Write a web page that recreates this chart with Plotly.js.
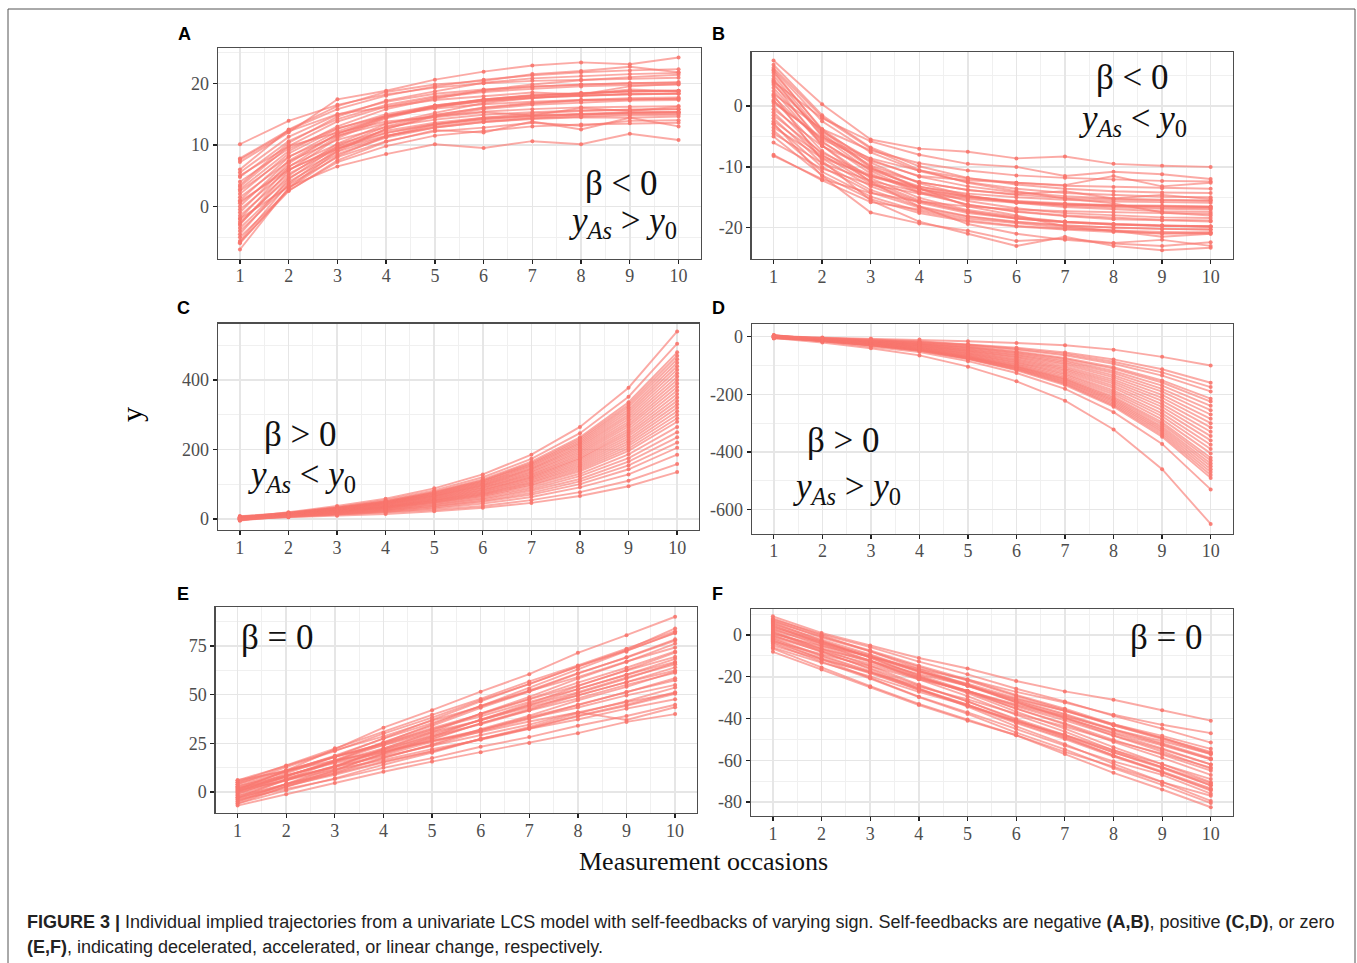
<!DOCTYPE html>
<html>
<head>
<meta charset="utf-8">
<script src="https://cdn.plot.ly/plotly-3.0.1.min.js"></script>
<style>
html,body{margin:0;padding:0;background:#fff;}
#chart{width:1357px;height:963px;}
</style>
</head>
<body>
<div id="chart"></div>
<script>
// ---------- data ----------
const occasions = [1, 2, 3, 4, 5, 6, 7, 8, 9, 10];
const xTickText = ['1','2','3','4','5','6','7','8','9','10'];

// Panel A: beta < 0, yAs > y0 (decelerated growth)
const panelA = [
  [10.1, 13.9, 16.5, 18.2, 19.3, 20.0, 20.4, 20.6, 20.8, 20.9],
  [7.8, 12.4, 15.8, 18.0, 19.5, 20.6, 21.3, 21.8, 22.1, 22.3],
  [7.2, 12.0, 17.4, 18.8, 20.6, 21.9, 22.9, 23.4, 23.1, 24.2],
  [5.5, 11.3, 14.9, 17.0, 18.3, 19.0, 19.5, 19.8, 20.0, 20.1],
  [4.8, 10.6, 14.2, 16.5, 17.9, 18.8, 19.4, 19.8, 20.0, 20.2],
  [4.0, 9.4, 12.7, 14.7, 15.9, 16.6, 17.0, 17.3, 17.4, 17.5],
  [3.2, 9.8, 13.8, 16.2, 17.7, 18.6, 19.1, 19.5, 19.7, 19.8],
  [2.5, 8.1, 11.5, 13.5, 14.7, 15.4, 15.8, 16.1, 16.2, 16.3],
  [2.0, 8.6, 12.6, 15.0, 16.4, 17.3, 17.8, 18.1, 18.3, 18.4],
  [1.5, 7.3, 10.8, 12.9, 14.1, 14.9, 15.3, 15.6, 15.7, 15.8],
  [1.0, 8.0, 12.2, 14.7, 16.2, 17.1, 17.7, 18.0, 18.2, 18.3],
  [0.5, 6.5, 10.1, 12.3, 13.6, 14.4, 14.8, 15.1, 15.3, 15.4],
  [0.0, 7.4, 11.8, 14.5, 16.1, 17.1, 17.6, 18.0, 18.2, 18.3],
  [-0.5, 5.9, 9.7, 12.0, 13.4, 14.2, 14.7, 15.0, 15.2, 15.3],
  [-1.0, 7.0, 11.8, 14.7, 16.4, 17.4, 18.1, 18.4, 18.7, 18.8],
  [-1.5, 5.3, 9.4, 11.9, 13.3, 14.2, 14.7, 15.0, 15.2, 15.3],
  [-2.0, 6.4, 11.4, 14.5, 16.3, 17.4, 18.0, 18.4, 18.7, 18.8],
  [-2.5, 4.6, 8.9, 11.4, 13.0, 13.9, 14.4, 14.8, 15.0, 15.1],
  [-3.0, 5.8, 11.1, 14.3, 16.2, 17.3, 18.0, 18.4, 18.7, 18.8],
  [-3.5, 4.0, 8.5, 11.2, 12.8, 13.7, 14.3, 14.6, 14.8, 14.9],
  [-4.0, 3.5, 8.0, 10.6, 12.2, 12.8, 13.6, 13.1, 13.9, 14.0],
  [-4.5, 4.4, 9.8, 13.0, 14.9, 16.0, 16.7, 17.2, 17.4, 17.5],
  [-5.0, 2.6, 7.2, 9.8, 11.5, 12.3, 13.0, 13.3, 13.5, 13.6],
  [-5.6, 3.7, 9.3, 12.6, 14.6, 15.8, 16.5, 16.9, 17.2, 17.3],
  [-6.0, 2.9, 8.2, 11.4, 13.3, 14.4, 15.1, 15.5, 15.7, 15.8],
  [-7.0, 3.0, 9.0, 12.6, 14.8, 16.1, 16.8, 17.3, 17.6, 17.7],
  [-2.0, 3.2, 6.5, 8.5, 10.1, 9.5, 10.6, 10.1, 11.8, 10.8],
  [6.0, 12.5, 16.3, 18.6, 19.8, 20.4, 21.5, 22.0, 22.7, 21.8],
  [3.5, 10.3, 14.6, 17.2, 18.7, 20.1, 20.8, 21.2, 21.5, 21.7],
  [-5.8, 2.5, 7.5, 10.5, 12.4, 12.0, 13.8, 12.5, 14.4, 13.0],
  [5.0, 9.8, 12.0, 13.8, 14.5, 15.3, 14.8, 16.0, 15.5, 16.2],
  [7.6, 12.2, 15.0, 16.2, 17.3, 17.9, 18.5, 18.2, 19.0, 18.7],
  [0.8, 6.0, 9.4, 11.5, 12.8, 13.7, 14.2, 14.5, 14.4, 14.6],
  [-2.8, 5.0, 10.2, 13.4, 15.2, 16.8, 17.6, 18.2, 19.5, 19.9],
  [2.8, 9.0, 13.0, 15.8, 17.5, 18.9, 19.8, 20.5, 21.0, 21.4]
];

// Panel B: beta < 0, yAs < y0 (decelerated decline)
const panelB = [
  [7.5, 0.3, -5.5, -7.0, -7.5, -8.6, -8.3, -9.5, -9.8, -10.0],
  [6.8, -1.5, -6.8, -9.9, -11.8, -12.9, -13.6, -14.0, -14.2, -14.3],
  [6.0, -2.5, -7.6, -10.7, -12.5, -13.6, -14.3, -14.6, -14.9, -15.0],
  [5.5, -3.8, -9.3, -12.7, -14.7, -15.9, -16.6, -17.0, -17.3, -17.4],
  [5.0, -4.5, -10.2, -13.6, -15.6, -16.8, -17.6, -18.0, -18.3, -18.4],
  [4.5, -5.0, -10.7, -14.1, -16.2, -17.4, -18.1, -18.6, -18.8, -19.0],
  [4.0, -2.0, -5.8, -8.0, -9.5, -10.0, -11.5, -10.8, -11.2, -12.0],
  [3.5, -4.2, -8.8, -11.6, -13.2, -14.2, -14.8, -15.2, -15.4, -15.5],
  [3.0, -5.8, -11.1, -14.3, -16.2, -17.3, -18.0, -18.4, -18.7, -18.8],
  [2.5, -6.5, -11.9, -15.1, -17.1, -18.2, -19.0, -19.4, -19.6, -19.8],
  [2.0, -3.8, -7.3, -9.4, -10.6, -11.4, -11.8, -12.1, -12.3, -12.4],
  [1.5, -6.0, -10.5, -13.2, -14.8, -15.8, -16.4, -16.7, -16.9, -17.0],
  [1.0, -7.4, -12.4, -15.5, -17.3, -18.4, -19.0, -19.4, -19.7, -19.8],
  [0.5, -5.2, -8.6, -10.6, -11.9, -12.6, -13.1, -13.3, -13.5, -13.6],
  [0.0, -8.0, -12.8, -15.7, -17.4, -18.5, -19.1, -19.5, -19.7, -19.8],
  [-0.5, -6.6, -10.3, -12.5, -13.8, -14.6, -15.1, -15.4, -15.5, -15.6],
  [-1.0, -8.6, -13.2, -15.9, -17.6, -18.5, -19.1, -19.5, -19.7, -19.8],
  [-1.5, -7.7, -11.4, -13.6, -14.9, -15.7, -16.2, -16.5, -16.7, -16.8],
  [-2.0, -9.4, -13.8, -16.5, -18.1, -19.0, -19.6, -20.0, -20.2, -20.3],
  [-2.5, -8.2, -11.6, -13.7, -14.9, -15.6, -16.0, -16.3, -16.4, -16.5],
  [-3.0, -10.0, -14.2, -16.7, -18.2, -19.1, -19.7, -20.0, -20.2, -20.3],
  [-3.5, -8.5, -11.5, -13.3, -14.4, -15.0, -15.4, -15.7, -15.8, -15.9],
  [-4.0, -10.8, -14.9, -17.3, -18.8, -19.7, -20.2, -20.5, -20.7, -20.8],
  [-4.5, -9.4, -12.3, -14.1, -15.1, -15.8, -16.1, -16.4, -16.5, -16.6],
  [-5.0, -11.4, -15.3, -17.6, -19.0, -19.8, -20.3, -20.7, -20.9, -21.0],
  [-6.0, -10.3, -12.9, -14.4, -15.3, -15.9, -16.2, -16.4, -16.5, -16.6],
  [-8.2, -12.0, -14.3, -15.7, -16.5, -17.0, -17.3, -17.5, -17.6, -17.7],
  [-8.0, -12.2, -15.8, -17.0, -18.5, -19.2, -20.0, -20.5, -21.0, -20.8],
  [5.8, -4.0, -10.0, -13.5, -16.5, -18.0, -19.8, -20.5, -21.5, -21.0],
  [3.8, -6.5, -12.5, -16.5, -19.4, -21.0, -22.0, -22.6, -23.0, -22.4],
  [1.8, -9.0, -15.5, -19.0, -21.0, -23.0, -21.5, -23.0, -23.7, -23.3],
  [-2.8, -11.5, -17.5, -19.3, -20.5, -22.2, -21.8, -22.5, -22.0, -23.0],
  [4.2, -4.8, -9.8, -12.5, -13.8, -14.5, -14.0, -15.2, -14.6, -15.3],
  [0.8, -5.5, -9.0, -11.5, -12.2, -12.6, -13.0, -11.5, -13.2, -12.6],
  [6.3, -1.8, -7.0, -10.5, -12.6, -14.0, -15.2, -16.0, -17.5, -18.0]
];

// Panel C: beta > 0, yAs < y0 (accelerated growth)
const panelC = [
  [4, 19, 37, 58, 88, 128, 185, 265, 378, 540],
  [6, 18, 34, 54, 82, 120, 173, 247, 352, 505],
  [8, 17, 32, 51, 78, 114, 165, 235, 336, 480],
  [2, 16, 32, 50, 77, 111, 161, 230, 329, 470],
  [5, 16, 31, 49, 75, 109, 158, 225, 322, 460],
  [0, 15, 30, 48, 73, 107, 154, 220, 315, 450],
  [7, 15, 30, 47, 72, 104, 151, 216, 308, 440],
  [-2, 14, 29, 46, 70, 102, 147, 211, 301, 430],
  [3, 15, 29, 45, 68, 99, 144, 206, 294, 420],
  [1, 14, 28, 44, 67, 97, 141, 201, 287, 410],
  [-4, 13, 27, 43, 65, 95, 137, 196, 280, 400],
  [4, 14, 27, 42, 64, 92, 134, 191, 273, 390],
  [6, 13, 26, 41, 62, 90, 130, 186, 266, 380],
  [-1, 13, 25, 40, 60, 88, 127, 181, 259, 370],
  [2, 12, 24, 38, 59, 85, 123, 176, 252, 360],
  [5, 12, 24, 37, 57, 83, 120, 172, 245, 350],
  [-3, 12, 23, 36, 55, 81, 117, 167, 238, 340],
  [1, 11, 22, 35, 54, 78, 113, 162, 231, 330],
  [3, 11, 22, 34, 52, 76, 110, 157, 224, 320],
  [-2, 10, 21, 33, 51, 73, 106, 152, 217, 310],
  [0, 10, 20, 32, 49, 71, 103, 147, 210, 300],
  [4, 10, 20, 31, 47, 69, 99, 142, 203, 290],
  [-5, 9, 19, 30, 46, 66, 96, 137, 196, 280],
  [2, 9, 18, 28, 43, 63, 91, 130, 186, 265],
  [-1, 8, 17, 27, 41, 59, 86, 123, 175, 250],
  [3, 8, 16, 25, 38, 56, 81, 115, 165, 235],
  [0, 7, 15, 24, 36, 52, 75, 108, 154, 220],
  [-3, 7, 14, 22, 33, 49, 70, 100, 143, 205],
  [1, 6, 13, 20, 30, 44, 63, 91, 128, 185],
  [-2, 5, 11, 17, 26, 37, 54, 77, 110, 158],
  [0, 5, 9, 14, 22, 32, 46, 66, 94, 135]
];

// Panel D: beta > 0, yAs > y0 (accelerated decline)
const panelD = [
  [-5, -20, -40, -65, -104, -155, -222, -322, -460, -650],
  [2, -16, -33, -53, -85, -126, -181, -262, -372, -530],
  [-3, -15, -30, -49, -78, -117, -168, -243, -347, -490],
  [4, -14, -30, -48, -77, -114, -164, -238, -340, -480],
  [0, -14, -29, -47, -75, -112, -161, -233, -333, -470],
  [-6, -14, -29, -46, -74, -109, -157, -228, -326, -460],
  [3, -14, -28, -45, -72, -107, -154, -223, -319, -450],
  [-1, -13, -27, -44, -70, -105, -150, -218, -312, -440],
  [5, -13, -27, -43, -69, -102, -147, -213, -304, -430],
  [-4, -13, -26, -42, -67, -100, -144, -208, -297, -420],
  [1, -12, -25, -41, -65, -96, -139, -200, -287, -405],
  [-2, -12, -24, -39, -62, -93, -133, -193, -276, -390],
  [6, -11, -23, -38, -60, -89, -128, -186, -266, -375],
  [-5, -11, -22, -36, -58, -86, -123, -178, -255, -360],
  [2, -10, -21, -35, -55, -82, -118, -171, -244, -345],
  [-1, -10, -20, -33, -53, -79, -113, -163, -234, -330],
  [4, -9, -20, -32, -50, -75, -108, -156, -223, -315],
  [-3, -9, -19, -30, -48, -71, -103, -149, -212, -300],
  [0, -9, -18, -29, -46, -68, -97, -141, -202, -285],
  [3, -8, -17, -27, -43, -64, -92, -134, -191, -270],
  [-2, -8, -16, -26, -41, -61, -87, -126, -181, -255],
  [1, -7, -15, -24, -38, -57, -82, -119, -170, -240],
  [-4, -7, -14, -23, -36, -54, -77, -111, -159, -225],
  [2, -6, -13, -22, -34, -51, -74, -106, -152, -215],
  [0, -6, -12, -19, -30, -45, -65, -94, -135, -190],
  [3, -5, -11, -18, -28, -42, -60, -87, -124, -175],
  [-1, -5, -10, -16, -26, -38, -55, -79, -113, -160],
  [1, -3, -6, -10, -16, -22, -30, -45, -70, -100]
];

// Panel E: beta = 0, positive linear change
const panelE = [
  [1, 11, 22, 33, 42, 51.5, 60.5, 71.5, 80.5, 90],
  [5, 13.6, 22.4, 30.6, 39.6, 47.8, 56.8, 65.0, 73.6, 82.6],
  [-3, 6.4, 15.6, 25.4, 34.4, 44.2, 53.2, 63.0, 72.0, 81.8],
  [2, 10.6, 18.6, 27.4, 35.4, 44.2, 52.2, 61.0, 69.0, 77.8],
  [-5, 4.2, 12.8, 22.2, 30.8, 40.2, 48.8, 58.2, 66.8, 76.2],
  [6, 13.4, 21.4, 28.6, 36.6, 43.8, 51.8, 59.0, 67.0, 74.2],
  [0, 8.2, 15.8, 24.2, 31.8, 40.2, 47.8, 56.2, 63.8, 72.2],
  [-6, 2.8, 11.0, 20.0, 28.2, 37.2, 45.4, 54.4, 62.6, 71.6],
  [3, 10.2, 18.0, 25.0, 32.8, 39.8, 47.6, 54.6, 62.4, 69.4],
  [-2, 6.0, 13.4, 21.6, 29.0, 37.2, 44.6, 52.8, 60.2, 68.4],
  [4, 10.8, 18.2, 24.8, 32.2, 38.8, 46.2, 52.8, 60.2, 66.8],
  [-4, 4.0, 11.4, 19.6, 27.0, 35.2, 42.6, 50.8, 58.2, 66.4],
  [1, 8.0, 15.6, 22.4, 30.0, 36.8, 44.4, 51.2, 58.8, 65.6],
  [-1, 6.4, 13.2, 20.8, 27.6, 35.2, 42.0, 49.6, 56.4, 64.0],
  [5, 11.2, 18.0, 24.0, 30.8, 36.8, 43.6, 49.6, 56.4, 62.4],
  [-5, 2.6, 9.6, 17.4, 24.4, 32.2, 39.2, 47.0, 54.0, 61.8],
  [2, 8.4, 15.4, 21.6, 28.6, 34.8, 41.8, 48.0, 55.0, 61.2],
  [-3, 4.0, 10.4, 17.6, 24.0, 31.2, 37.6, 44.8, 51.2, 58.4],
  [0, 6.2, 13.0, 19.0, 25.8, 31.8, 38.6, 44.6, 51.4, 57.4],
  [3, 8.6, 14.8, 20.2, 26.4, 31.8, 38.0, 43.4, 49.6, 55.0],
  [-6, 0.8, 7.0, 14.0, 20.2, 27.2, 33.4, 40.4, 46.6, 53.6],
  [-2, 4.0, 9.4, 15.6, 21.0, 27.2, 32.6, 38.8, 44.2, 50.4],
  [1, 6.0, 11.6, 16.4, 22.0, 26.8, 32.4, 37.2, 42.8, 47.6],
  [-4, 1.6, 6.6, 12.4, 17.4, 23.2, 28.2, 34.0, 39.0, 44.8],
  [-7, -1.2, 4.6, 10.4, 15.6, 20.4, 25.2, 30.2, 36.0, 40.0],
  [4, 12.8, 21.0, 30.0, 38.2, 47.2, 55.4, 64.4, 72.6, 81.6],
  [-1, 8.0, 16.4, 25.6, 34.0, 43.2, 51.6, 60.8, 69.2, 78.4],
  [6, 10.8, 16.2, 20.8, 26.2, 30.8, 36.2, 40.8, 46.2, 50.8],
  [-3, 3.2, 8.8, 15.2, 20.8, 27.2, 32.8, 39.2, 44.8, 51.2],
  [0, 9.5, 18.0, 27.5, 37.0, 46.5, 55.5, 64.5, 73.0, 84.0],
  [2, 7.2, 12.8, 18.2, 23.6, 29.2, 34.6, 41.0, 37.0, 43.5]
];

// Panel F: beta = 0, negative linear change
const panelF = [
  [9, 1, -5, -11, -16, -22, -27, -31, -36, -41],
  [7, -1.2, -7.8, -15.2, -21.8, -29.2, -35.8, -43.2, -49.8, -57],
  [5, -3.2, -10.8, -19.2, -26.8, -35.2, -42.8, -51.2, -58.8, -67],
  [6, -2.7, -10.8, -19.7, -27.8, -36.7, -44.8, -53.7, -61.8, -70.5],
  [3, -5.2, -12.3, -20.2, -27.3, -35.2, -42.3, -50.2, -57.3, -65],
  [4, -3.2, -9.8, -17.2, -23.8, -31.2, -37.8, -45.2, -51.8, -59],
  [2, -6.7, -14.8, -23.7, -31.8, -40.7, -48.8, -57.7, -65.8, -74.5],
  [1, -6.2, -12.8, -20.2, -26.8, -34.2, -40.8, -48.2, -54.8, -62],
  [0, -8.2, -15.8, -24.2, -31.8, -40.2, -47.8, -56.2, -63.8, -72],
  [-1, -7.7, -13.8, -20.7, -26.8, -33.7, -39.8, -46.7, -52.8, -59.5],
  [-2, -10.2, -17.8, -26.2, -33.8, -42.2, -49.8, -58.2, -65.8, -74],
  [-3, -9.2, -14.8, -21.2, -26.8, -33.2, -38.8, -45.2, -50.8, -57],
  [-4, -12.7, -20.8, -29.7, -37.8, -46.7, -54.8, -63.7, -71.8, -80.5],
  [-5, -11.7, -17.8, -24.7, -30.8, -37.7, -43.8, -50.7, -56.8, -63.5],
  [-6, -13.2, -19.8, -27.2, -33.8, -41.2, -47.8, -55.2, -61.8, -69],
  [-8, -16.5, -25, -33.5, -41, -48, -56, -63, -70.5, -77],
  [8, -0.2, -7.8, -16.2, -23.8, -32.2, -39.8, -48.2, -55.8, -64],
  [6.5, -0.7, -7.3, -14.7, -21.3, -28.7, -35.3, -42.7, -49.3, -56.5],
  [4.5, -4.2, -12.3, -21.2, -29.3, -38.2, -46.3, -55.2, -63.3, -72],
  [2.5, -4.2, -10.3, -17.2, -23.3, -30.2, -36.3, -43.2, -49.3, -56],
  [1.5, -7.7, -16.3, -25.7, -34.3, -43.7, -52.3, -61.7, -70.3, -79.5],
  [-0.5, -6.7, -12.3, -18.7, -24.3, -30.7, -36.3, -42.7, -48.3, -54.5],
  [-1.5, -9.7, -17.3, -25.7, -33.3, -41.7, -49.3, -57.7, -65.3, -73.5],
  [-3.5, -11.2, -18.3, -26.2, -33.3, -41.2, -48.3, -56.2, -63.3, -71],
  [-6.5, -15.5, -24.5, -33, -40.5, -48, -57, -66, -74, -82.5],
  [7.5, 0.3, -5.8, -12.7, -18.8, -25.7, -31.8, -38.7, -44.8, -51.5],
  [3.5, -3.7, -10.3, -17.7, -24.3, -31.7, -38.3, -45.7, -52.3, -59.5],
  [0.5, -5.2, -10.3, -16.2, -21.3, -27.2, -32.3, -38.2, -43, -47],
  [-2.5, -11.5, -20.5, -29.5, -37, -45, -53, -60.5, -67, -76],
  [5.5, -2.2, -9.3, -17.2, -24.3, -32.2, -39.3, -47.2, -54.3, -62]
];

// y-axis tick values / labels per panel
const yTicksA = [0, 10, 20];           const yTextA = ['0', '10', '20'];
const yTicksB = [-20, -10, 0];         const yTextB = ['-20', '-10', '0'];
const yTicksC = [0, 200, 400];         const yTextC = ['0', '200', '400'];
const yTicksD = [-600, -400, -200, 0]; const yTextD = ['-600', '-400', '-200', '0'];
const yTicksE = [0, 25, 50, 75];       const yTextE = ['0', '25', '50', '75'];
const yTicksF = [-80, -60, -40, -20, 0]; const yTextF = ['-80', '-60', '-40', '-20', '0'];

// ---------- layout helpers ----------
const W = 1357, H = 963;
const LINE_COL = 'rgba(248,118,109,0.62)';
const MARK_COL = 'rgba(248,118,109,0.9)';
const SERIF = 'Liberation Serif, Times New Roman, serif';
const SANS = 'Liberation Sans, Arial, sans-serif';

const panels = [
  {data: panelA, px: [218, 700.5], py: [48.3, 258.5], yr: [-8.46, 25.69], yt: yTicksA, ytt: yTextA, minor: 5},
  {data: panelB, px: [751.7, 1232.5], py: [52, 258.7], yr: [-25.1, 8.9], yt: yTicksB, ytt: yTextB, minor: 5},
  {data: panelC, px: [218, 699], py: [323.5, 530], yr: [-32, 563], yt: yTicksC, ytt: yTextC, minor: 100},
  {data: panelD, px: [752, 1232.5], py: [324, 533.5], yr: [-683, 44], yt: yTicksD, ytt: yTextD, minor: 100},
  {data: panelE, px: [215.7, 697], py: [607, 813], yr: [-10.8, 95], yt: yTicksE, ytt: yTextE, minor: 12.5},
  {data: panelF, px: [751, 1232.7], py: [609, 816], yr: [-86.7, 12.5], yt: yTicksF, ytt: yTextF, minor: 10}
];

const traces = [];
const layout = {
  width: W, height: H,
  margin: {l: 0, r: 0, t: 0, b: 0},
  paper_bgcolor: '#ffffff',
  plot_bgcolor: '#ffffff',
  showlegend: false,
  annotations: [],
  shapes: []
};

panels.forEach((p, i) => {
  const n = i + 1;
  const xa = n === 1 ? 'x' : 'x' + n;
  const ya = n === 1 ? 'y' : 'y' + n;
  const common = {
    showline: true, mirror: true, linecolor: '#4d4d4d', linewidth: 1.3,
    ticks: 'outside', ticklen: 4, tickwidth: 1.3, tickcolor: '#222222',
    tickfont: {family: SERIF, size: 18, color: '#4d4d4d'},
    showgrid: true, gridcolor: '#e6e6e6', gridwidth: 1.5,
    zeroline: false, fixedrange: true
  };
  layout['xaxis' + (n === 1 ? '' : n)] = Object.assign({}, common, {
    domain: [p.px[0] / W, p.px[1] / W],
    anchor: ya,
    range: [0.55, 10.45],
    tickmode: 'array', tickvals: occasions, ticktext: xTickText,
    ticklabelstandoff: -3,
    minor: {tickmode: 'linear', tick0: 0.5, dtick: 1, showgrid: true, gridcolor: '#f0f0f0', gridwidth: 1, ticks: ''}
  });
  layout['yaxis' + (n === 1 ? '' : n)] = Object.assign({}, common, {
    domain: [1 - p.py[1] / H, 1 - p.py[0] / H],
    anchor: xa,
    range: p.yr,
    tickmode: 'array', tickvals: p.yt, ticktext: p.ytt,
    minor: {tickmode: 'linear', tick0: p.minor, dtick: p.minor * 2, showgrid: true, gridcolor: '#f0f0f0', gridwidth: 1, ticks: ''}
  });
  p.data.forEach(row => {
    traces.push({
      x: occasions, y: row, xaxis: xa, yaxis: ya,
      type: 'scatter', mode: 'lines+markers',
      line: {color: LINE_COL, width: 1.9},
      marker: {color: MARK_COL, size: 4},
      hoverinfo: 'skip', showlegend: false
    });
  });
});

// ---------- text ----------
function ann(x, y, text, font, extra) {
  layout.annotations.push(Object.assign({
    xref: 'paper', yref: 'paper', x: x / W, y: 1 - y / H,
    text: text, showarrow: false, font: font,
    xanchor: 'center', yanchor: 'middle'
  }, extra || {}));
}
const letterFont = {family: SANS, size: 18, color: '#000000', weight: 'bold'};
ann(184, 34, '<b>A</b>', letterFont);
ann(718, 34, '<b>B</b>', letterFont);
ann(183, 308, '<b>C</b>', letterFont);
ann(718, 308, '<b>D</b>', letterFont);
ann(183, 594, '<b>E</b>', letterFont);
ann(717, 594, '<b>F</b>', letterFont);

const mathFont = {family: SERIF, size: 35, color: '#111111'};
const yAsGt = '<i>y</i><sub><i>As</i></sub> &gt; <i>y</i><sub>0</sub>';
const yAsLt = '<i>y</i><sub><i>As</i></sub> &lt; <i>y</i><sub>0</sub>';
ann(621, 184, 'β &lt; 0', mathFont);
ann(623, 222, yAsGt, mathFont);
ann(1132, 77, 'β &lt; 0', mathFont);
ann(1133, 120, yAsLt, mathFont);
ann(300, 434, 'β &gt; 0', mathFont);
ann(302, 476, yAsLt, mathFont);
ann(843, 440, 'β &gt; 0', mathFont);
ann(847, 488, yAsGt, mathFont);
ann(277, 637, 'β = 0', mathFont);
ann(1166, 637, 'β = 0', mathFont);

ann(131, 415, 'y', {family: SERIF, size: 30, color: '#000000'}, {textangle: -90});
ann(703, 861, 'Measurement occasions', {family: SERIF, size: 26, color: '#111111'});

const capFont = {family: SANS, size: 18, color: '#222222'};
ann(25, 922, '<b>FIGURE 3 |</b> Individual implied trajectories from a univariate LCS model with self-feedbacks of varying sign. Self-feedbacks are negative <b>(A,B)</b>, positive <b>(C,D)</b>, or zero', capFont, {xanchor: 'left'});
ann(25, 947, '<b>(E,F)</b>, indicating decelerated, accelerated, or linear change, respectively.', capFont, {xanchor: 'left'});

// outer frame
layout.shapes.push({
  type: 'rect', xref: 'paper', yref: 'paper',
  x0: 8 / W, x1: 1355 / W, y0: -0.02, y1: 1 - 9 / H,
  line: {color: '#555555', width: 1}, fillcolor: 'rgba(0,0,0,0)'
});

Plotly.newPlot('chart', traces, layout, {displayModeBar: false, staticPlot: true});
</script>
</body>
</html>
